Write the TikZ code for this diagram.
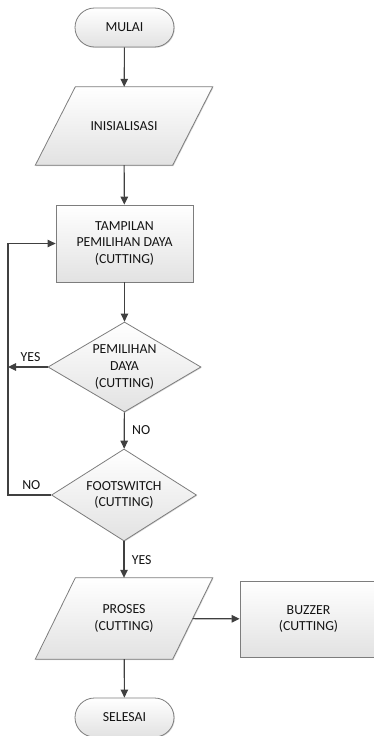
\documentclass[tikz,border=0pt]{standalone}
\usepackage{fontspec}
\setmainfont{Carlito}
\usetikzlibrary{shapes.geometric,shapes.misc,arrows.meta,shadows,calc}
\pgfdeclarelayer{background}
\pgfsetlayers{background,main}
\definecolor{border}{RGB}{125,125,125}
\definecolor{conn}{RGB}{64,64,64}
\definecolor{fillbot}{RGB}{226,226,226}
\begin{document}
\begin{tikzpicture}[x=1pt,y=-1pt,
  shp/.style={draw=border, line width=0.8pt, top color=white, bottom color=fillbot,
    drop shadow={shadow xshift=0.8pt,shadow yshift=-0.8pt,opacity=0.3}},
  txt/.style={font=\fontsize{13.8}{16.7}\selectfont, align=center, text=black!92},
  term/.style={shp, txt, rounded rectangle, minimum width=99pt, minimum height=39pt, inner sep=0pt},
  procbox/.style={shp, txt, rectangle, minimum width=137pt, minimum height=77pt, inner sep=0pt},
  iobox/.style={txt, rectangle, minimum width=137pt, inner sep=0pt},
  decision/.style={shp, diamond, inner sep=0pt},
  arr/.style={draw=conn, line width=1.1pt, -{Triangle[length=8pt,width=7.5pt]}},
  lbl/.style={txt}
]
\useasboundingbox (0,0) rectangle (374,736);

\node[term] (start) at (124.5,27.5) {MULAI};
\node[iobox, minimum height=78pt] (init) at (124,126) {INISIALISASI};
\node[procbox] (disp) at (124.5,243.5) {TAMPILAN\\PEMILIHAN DAYA\\(CUTTING)};
\node[decision, minimum width=153pt, minimum height=90pt,
  label={[txt]center:PEMILIHAN\\DAYA\\(CUTTING)}] (d1) at (124.5,367) {};
\node[decision, minimum width=145pt, minimum height=92pt,
  label={[txt]center:FOOTSWITCH\\(CUTTING)}] (d2) at (124,495) {};
\node[iobox, minimum height=81pt] (proc) at (124,618.5) {PROSES\\(CUTTING)};
\node[procbox, minimum height=76pt] (buzz) at (308.5,619) {BUZZER\\(CUTTING)};
\node[term] (stop) at (124.5,717.5) {SELESAI};

\begin{pgfonlayer}{background}
\path[shp] ($(init.north west)+(20,0)$) -- ($(init.north east)+(20,0)$)
  -- ($(init.south east)+(-20,0)$) -- ($(init.south west)+(-20,0)$) -- cycle;
\path[shp] ($(proc.north west)+(20,0)$) -- ($(proc.north east)+(20,0)$)
  -- ($(proc.south east)+(-20,0)$) -- ($(proc.south west)+(-20,0)$) -- cycle;
\end{pgfonlayer}

\coordinate (lx) at (8,495);

\draw[arr] (start) -- (init);
\draw[arr] (init) -- (disp);
\draw[arr] (disp) -- (d1);
\draw[arr] (d1) -- node[lbl, right, xshift=4pt] {NO} (d2);
\draw[arr] (d2) -- node[lbl, right, xshift=4pt] {YES} (proc);
\draw[arr] (proc) -- (buzz);
\draw[arr] (proc) -- (stop);
\draw[arr] (d1.west) -- node[lbl, above, yshift=2pt, pos=0.43] {YES} (d1.west -| lx);
\draw[arr] (d2.west) -- node[lbl, above, yshift=2pt, pos=0.46] {NO} (lx) |- (disp.west);
\end{tikzpicture}
\end{document}
